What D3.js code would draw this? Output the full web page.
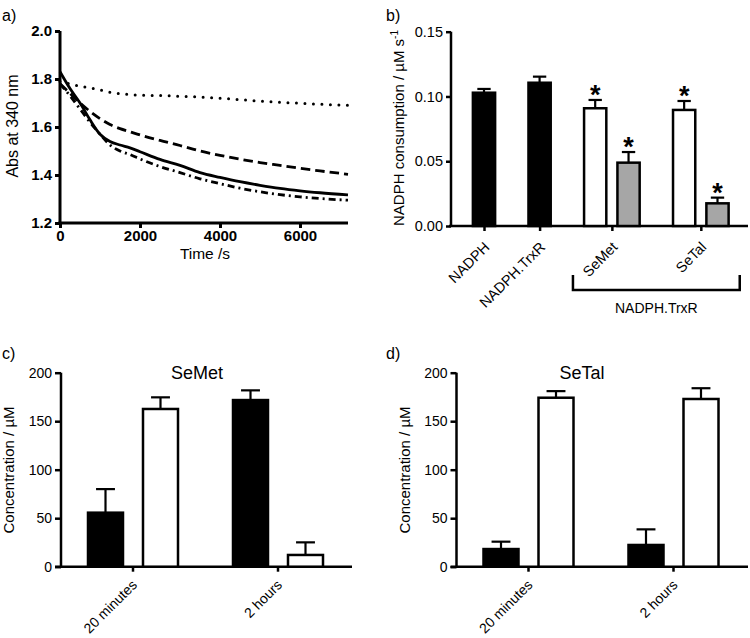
<!DOCTYPE html>
<html><head><meta charset="utf-8">
<script src="https://cdn.jsdelivr.net/npm/d3@7"></script>
<style>
body{margin:0;background:#fff;}
svg{display:block;}
text{font-family:"Liberation Sans",Arial,Helvetica,sans-serif;fill:#000;}
</style></head>
<body>
<svg id="chart" width="750" height="638"></svg>
<script>
// ---------- Panel a data ----------
const timeS = [0,250,500,750,1000,1250,1500,1750,2000,2500,3000,3500,4000,4500,5000,5500,6000,6500,7200];
const absSolid   = [1.83,1.76,1.70,1.63,1.57,1.54,1.525,1.513,1.497,1.465,1.44,1.41,1.39,1.372,1.357,1.344,1.334,1.326,1.317];
const absDashed  = [1.78,1.74,1.70,1.665,1.635,1.61,1.593,1.58,1.567,1.544,1.523,1.50,1.482,1.466,1.452,1.44,1.428,1.417,1.403];
const absDashDot = [1.78,1.73,1.675,1.62,1.57,1.525,1.50,1.485,1.467,1.435,1.41,1.384,1.364,1.345,1.33,1.318,1.309,1.302,1.295];
const absDotted  = [1.79,1.78,1.77,1.763,1.755,1.745,1.739,1.735,1.733,1.731,1.728,1.725,1.72,1.714,1.708,1.703,1.699,1.695,1.69];
const aYTicks = [1.2,1.4,1.6,1.8,2.0];
const aXTicks = [0,2000,4000,6000];

// ---------- Panel b data ----------
const bCategories = ["NADPH","NADPH.TrxR","SeMet","SeTal"];
const bBarGroup  = ["NADPH","NADPH.TrxR","SeMet","SeMet","SeTal","SeTal"];
const bBarSeries = ["control","control","open","grey","open","grey"];
const bBarValue  = [0.1029,0.1106,0.0909,0.0489,0.0896,0.0175];
const bBarError  = [0.0029,0.0047,0.0064,0.0082,0.0069,0.0044];
const bBarStar   = [false,false,true,true,true,true];
const bYTicks = [0,0.05,0.10,0.15];
const bBracketGroups = ["SeMet","SeTal"];
const bBracketLabel = "NADPH.TrxR";

// ---------- Panels c, d data ----------
const timeGroups = ["20 minutes","2 hours"];
const cdSeries = ["filled","open"];
const semetFilled = [55.7,171.8];
const semetFilledErr = [24.3,10.0];
const semetOpen = [162.6,12.1];
const semetOpenErr = [12.0,13.0];
const setalFilled = [18.2,22.4];
const setalFilledErr = [7.6,16.1];
const setalOpen = [174.2,172.9];
const setalOpenErr = [6.8,11.1];
const cdYTicks = [0,50,100,150,200];

const svg = d3.select("#chart");
const fillMap = {control:"#000", open:"#fff", grey:"#a6a6a6", filled:"#000"};

function styleAxis(g, w){
  g.selectAll("path.domain").attr("stroke","#000").attr("stroke-width",w);
  g.selectAll(".tick line").attr("stroke","#000").attr("stroke-width",w);
}
function rotateLabels(g, size, dx, dy){
  g.selectAll(".tick text").attr("font-size",size).attr("text-anchor","end")
    .attr("transform",`translate(${dx},${dy}) rotate(-45)`).attr("dy",0).attr("y",0).attr("x",0);
}

// ================= Panel a =================
(function(){
  const x = d3.scaleLinear().domain([0,7200]).range([60,348]);
  const y = d3.scaleLinear().domain([1.2,2.0]).range([223,31]);
  const gx = svg.append("g").attr("transform","translate(0,223)")
    .call(d3.axisBottom(x).tickValues(aXTicks).tickSize(5).tickSizeOuter(0).tickPadding(3).tickFormat(d3.format("d")));
  const gy = svg.append("g").attr("transform","translate(60,0)")
    .call(d3.axisLeft(y).tickValues(aYTicks).tickSize(5).tickSizeOuter(0).tickPadding(3).tickFormat(d3.format(".1f")));
  [gx,gy].forEach(g=>{styleAxis(g,3);g.selectAll("text").attr("font-size",15).attr("font-weight","bold");});
  gx.selectAll("text").attr("dy","0.68em");
  gx.select("path.domain").attr("d","M58.5,0H348");
  gy.select("path.domain").attr("d","M0,31V224.5");

  const series = [
    {v:absDotted, dash:"0,8.5", cap:"round", w:3},
    {v:absDashed, dash:"9.5,5", cap:"butt", w:2.8},
    {v:absDashDot, dash:"7,4,2,4", cap:"butt", w:2.8},
    {v:absSolid, dash:null, cap:"butt", w:2.8}
  ];
  const line = d3.line().x((d,i)=>x(timeS[i])).y(d=>y(d)).curve(d3.curveMonotoneX);
  series.forEach(s=>{
    svg.append("path").attr("d",line(s.v)).attr("fill","none").attr("stroke","#000")
      .attr("stroke-width",s.w).attr("stroke-dasharray",s.dash).attr("stroke-linecap",s.cap);
  });
  svg.append("text").attr("x",205).attr("y",259).attr("text-anchor","middle").attr("font-size",15.5).text("Time /s");
  svg.append("text").attr("transform","translate(18,126) rotate(-90)").attr("text-anchor","middle").attr("font-size",16).text("Abs at 340 nm");
  svg.append("text").attr("x",2).attr("y",21).attr("font-size",16).text("a)");
})();

// ================= Panel b =================
(function(){
  // slot positions: bars of the same group are 0.6 apart, groups 1 apart
  const pos = [];
  bBarGroup.forEach((g,i)=>{
    if(i===0) pos.push(0);
    else pos.push(pos[i-1] + (g===bBarGroup[i-1] ? 0.6 : 1));
  });
  const groupCenter = bCategories.map(c=>{
    const p = pos.filter((d,i)=>bBarGroup[i]===c);
    return d3.mean(p);
  });
  const x = d3.scaleLinear().domain([0,d3.max(pos)]).range([484,717.5]);
  const y = d3.scaleLinear().domain([0,0.15]).range([226,31.7]);
  const bw = (x(1)-x(0))*0.4;

  const gx = svg.append("g").attr("transform","translate(0,226)")
    .call(d3.axisBottom(x).tickValues(groupCenter).tickSize(5).tickSizeOuter(0).tickFormat((d,i)=>bCategories[i]));
  gx.select("path.domain").attr("d","M449,0H748");
  rotateLabels(gx,14.5,6,22);
  const gy = svg.append("g").attr("transform","translate(451,0)")
    .call(d3.axisLeft(y).tickValues(bYTicks).tickSize(5).tickSizeOuter(0).tickPadding(3).tickFormat(d3.format(".2f")));
  gy.select("path.domain").attr("d","M0,31.7V227");
  gy.selectAll("text").attr("font-size",14.5);
  styleAxis(gx,2.5); styleAxis(gy,2.5);

  const bars = svg.append("g");
  bBarValue.forEach((v,i)=>{
    const cx = x(pos[i]);
    bars.append("line").attr("x1",cx).attr("x2",cx).attr("y1",y(v)).attr("y2",y(v+bBarError[i]))
      .attr("stroke","#000").attr("stroke-width",2.2);
    bars.append("line").attr("x1",cx-bw*0.3).attr("x2",cx+bw*0.3).attr("y1",y(v+bBarError[i])).attr("y2",y(v+bBarError[i]))
      .attr("stroke","#000").attr("stroke-width",2.2);
    bars.append("rect").attr("x",cx-bw/2).attr("width",bw).attr("y",y(v)).attr("height",y(0)-y(v))
      .attr("fill",fillMap[bBarSeries[i]]).attr("stroke","#000").attr("stroke-width",2.5);
    if(bBarStar[i]){
      bars.append("text").attr("x",cx).attr("y",y(v+bBarError[i])+4).attr("text-anchor","middle")
        .attr("font-size",27).attr("font-weight","bold").text("*");
    }
  });

  // bracket
  const bpos = pos.filter((d,i)=>bBracketGroups.includes(bBarGroup[i]));
  const bl = x(d3.min(bpos)) - bw, br = x(d3.max(bpos)) + bw;
  svg.append("path").attr("d",`M${bl},275V290H${br}V275`).attr("fill","none").attr("stroke","#000").attr("stroke-width",2.5);
  svg.append("text").attr("x",(bl+br)/2).attr("y",313).attr("text-anchor","middle").attr("font-size",14).text(bBracketLabel);

  const yt = svg.append("text").attr("transform","translate(404,128) rotate(-90)").attr("text-anchor","middle").attr("font-size",15);
  yt.append("tspan").text("NADPH consumption / µM s");
  yt.append("tspan").attr("font-size",10).attr("dy","-0.6em").text("-1");
  svg.append("text").attr("x",386).attr("y",21).attr("font-size",16).text("b)");
})();

// ================= Panels c, d =================
function barPanel(opt){
  const x0 = d3.scaleBand().domain(timeGroups).range([opt.left-0.5, opt.left-0.5+290]);
  const x1 = d3.scaleBand().domain(cdSeries).range([0,x0.bandwidth()]).paddingInner(0.3636).paddingOuter(0.5);
  const y = d3.scaleLinear().domain([0,200]).range([566.7,372.7]);
  const gx = svg.append("g").attr("transform","translate(0,566.7)")
    .call(d3.axisBottom(x0).tickSize(5).tickSizeOuter(0));
  gx.select("path.domain").attr("d",`M${opt.left-6},0H${opt.right}`);
  rotateLabels(gx,14,5,19);
  const gy = svg.append("g").attr("transform",`translate(${opt.left},0)`)
    .call(d3.axisLeft(y).tickValues(cdYTicks).tickSize(6).tickSizeOuter(0).tickPadding(3));
  gy.select("path.domain").attr("d","M0,372.7V567");
  gy.selectAll("text").attr("font-size",14);
  styleAxis(gx,2.5); styleAxis(gy,2.5);

  const bw = x1.bandwidth();
  const data = [
    {s:"filled", v:opt.filled, e:opt.filledErr},
    {s:"open", v:opt.open, e:opt.openErr}
  ];
  const g = svg.append("g");
  data.forEach(ser=>{
    timeGroups.forEach((t,i)=>{
      const bx = x0(t)+x1(ser.s), cx = bx+bw/2, v = ser.v[i], top = v+ser.e[i];
      g.append("line").attr("x1",cx).attr("x2",cx).attr("y1",y(v)).attr("y2",y(top)).attr("stroke","#000").attr("stroke-width",2.2);
      g.append("line").attr("x1",cx-bw*0.27).attr("x2",cx+bw*0.27).attr("y1",y(top)).attr("y2",y(top)).attr("stroke","#000").attr("stroke-width",2.2);
      g.append("rect").attr("x",bx).attr("width",bw).attr("y",y(v)).attr("height",y(0)-y(v))
        .attr("fill",fillMap[ser.s]).attr("stroke","#000").attr("stroke-width",2.5);
    });
  });
  svg.append("text").attr("x",opt.titleX).attr("y",379).attr("text-anchor","middle").attr("font-size",18).text(opt.title);
  svg.append("text").attr("transform",`translate(${opt.left-47},470) rotate(-90)`).attr("text-anchor","middle").attr("font-size",15).text("Concentration / µM");
  svg.append("text").attr("x",opt.labelX).attr("y",359).attr("font-size",16).text(opt.label);
}
barPanel({left:61, right:352, filled:semetFilled, filledErr:semetFilledErr, open:semetOpen, openErr:semetOpenErr, title:"SeMet", titleX:197, label:"c)", labelX:2});
barPanel({left:456.5, right:748, filled:setalFilled, filledErr:setalFilledErr, open:setalOpen, openErr:setalOpenErr, title:"SeTal", titleX:582, label:"d)", labelX:386});
</script>
</body></html>
